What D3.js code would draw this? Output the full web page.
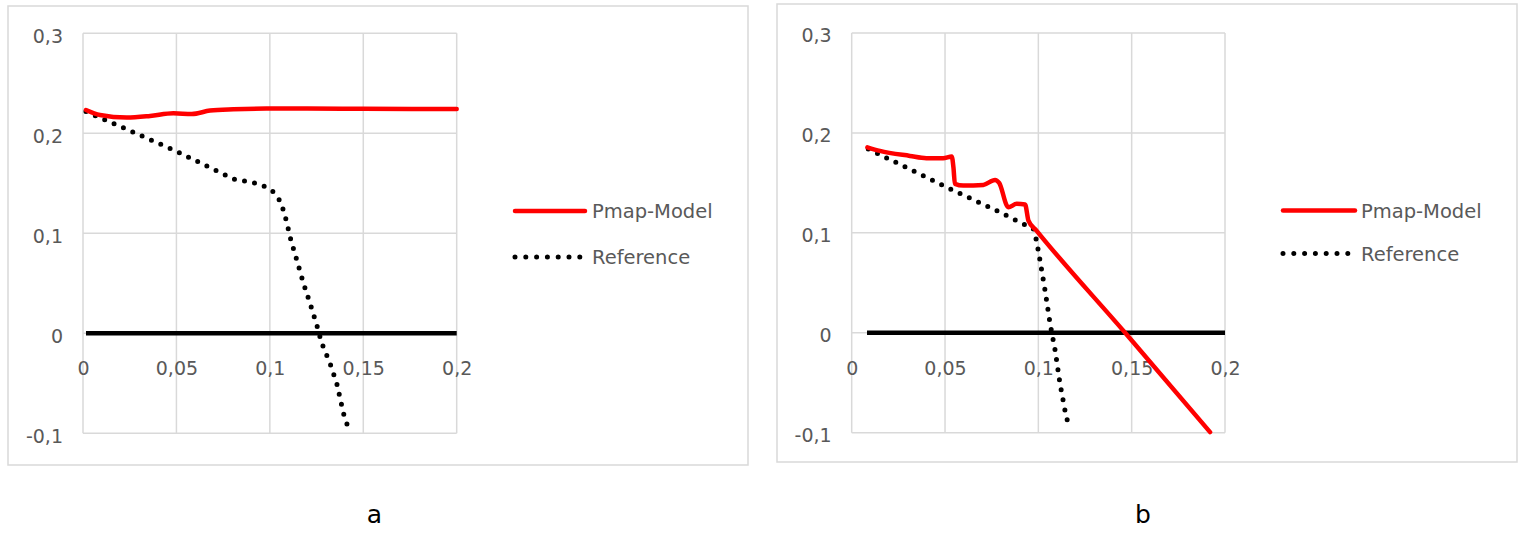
<!DOCTYPE html>
<html><head><meta charset="utf-8">
<script src="https://cdn.jsdelivr.net/npm/d3@7"></script>
<style>
html,body{margin:0;padding:0;background:#fff;}
svg{display:block;}
text{font-family:"DejaVu Sans",sans-serif;}
</style></head>
<body>
<svg id="chart" width="1521" height="534"></svg>
<script>
// ---- data ----
const xTickValues = [0, 0.05, 0.1, 0.15, 0.2];
const xTickLabels = ["0", "0,05", "0,1", "0,15", "0,2"];
const yTickValues = [-0.1, 0, 0.1, 0.2, 0.3];
const yTickLabels = ["-0,1", "0", "0,1", "0,2", "0,3"];
const seriesNames = ["Pmap-Model", "Reference"];
const panelLabels = ["a", "b"];

// Panel a
const aModelX = [0.0016, 0.0091, 0.0234, 0.0359, 0.0484, 0.0582, 0.068, 0.0805, 0.0982, 0.12, 0.15, 0.2];
const aModelY = [0.2233, 0.2183, 0.2157, 0.2173, 0.22, 0.2193, 0.2227, 0.224, 0.2247, 0.2247, 0.2245, 0.2243];
const aRefX = [0.0016, 0.0234, 0.0493, 0.0698, 0.0805, 0.0912, 0.097, 0.1016, 0.1051, 0.1072, 0.1087, 0.1113, 0.1144, 0.118, 0.1215, 0.1251, 0.1278, 0.1322, 0.1358, 0.1394, 0.1429];
const aRefY = [0.2217, 0.204, 0.1827, 0.164, 0.1543, 0.1507, 0.147, 0.1417, 0.1333, 0.1233, 0.1133, 0.093, 0.0733, 0.05, 0.03, 0.0083, -0.01, -0.03, -0.05, -0.08, -0.1];
const aZeroX = [0.0016, 0.2];
const aZeroY = [0, 0];

// Panel b
const bModelX = [0.0084, 0.0151, 0.0312, 0.04, 0.049, 0.0536, 0.0545, 0.0553, 0.0598, 0.0705, 0.0768, 0.079, 0.0839, 0.0884, 0.0929, 0.0947, 0.099, 0.1465, 0.192];
const bModelY = [0.1856, 0.182, 0.177, 0.1747, 0.1747, 0.1763, 0.1657, 0.149, 0.1473, 0.148, 0.153, 0.15, 0.1256, 0.129, 0.1283, 0.1123, 0.1023, 0.0, -0.0994];
const bRefX = [0.0089, 0.0509, 0.0768, 0.0973, 0.099, 0.1009, 0.1036, 0.1063, 0.109, 0.1116, 0.1145, 0.1166];
const bRefY = [0.184, 0.1456, 0.123, 0.104, 0.0923, 0.0723, 0.0423, 0.009, -0.0177, -0.051, -0.08, -0.096];
const bZeroX = [0.0082, 0.2];
const bZeroY = [0, 0];

// ---- layout ----
const panels = [
  {label: panelLabels[0], box: [8, 6, 748, 465], plot: [83, 456.7, 33.3, 433.3],
   model: [aModelX, aModelY], ref: [aRefX, aRefY], zero: [aZeroX, aZeroY],
   legendLine: [515, 585], legendText: 592, legendY: [211, 257], labelPos: [374.5, 516]},
  {label: panelLabels[1], box: [777, 4, 1517, 462], plot: [851.7, 1225, 33, 432.7],
   model: [bModelX, bModelY], ref: [bRefX, bRefY], zero: [bZeroX, bZeroY],
   legendLine: [1283, 1355], legendText: 1361, legendY: [210.5, 253.5], labelPos: [1143, 516]}
];

const svg = d3.select("#chart");
const gridColor = "#d9d9d9";
const textColor = "#595959";
const red = "#ff0000";
const FONT = "'DejaVu Sans', sans-serif";

panels.forEach(p => {
  const g = svg.append("g");
  g.append("rect")
    .attr("x", p.box[0]).attr("y", p.box[1])
    .attr("width", p.box[2] - p.box[0]).attr("height", p.box[3] - p.box[1])
    .attr("fill", "#fff").attr("stroke", gridColor).attr("stroke-width", 1.5);

  const x = d3.scaleLinear().domain([0, 0.2]).range([p.plot[0], p.plot[1]]);
  const y = d3.scaleLinear().domain([-0.1, 0.3]).range([p.plot[3], p.plot[2]]);

  // gridlines
  g.append("g").selectAll("line").data(yTickValues).join("line")
    .attr("x1", p.plot[0]).attr("x2", p.plot[1])
    .attr("y1", d => y(d)).attr("y2", d => y(d))
    .attr("stroke", gridColor).attr("stroke-width", 1.5);
  g.append("g").selectAll("line").data(xTickValues).join("line")
    .attr("x1", d => x(d)).attr("x2", d => x(d))
    .attr("y1", p.plot[2]).attr("y2", p.plot[3])
    .attr("stroke", gridColor).attr("stroke-width", 1.5);

  // y axis labels
  const yAxis = d3.axisLeft(y).tickValues(yTickValues)
    .tickFormat((d, i) => yTickLabels[i]).tickSize(0).tickPadding(20);
  const ya = g.append("g").attr("transform", `translate(${p.plot[0]},0)`).call(yAxis);
  ya.select(".domain").remove();
  ya.selectAll("text").attr("fill", textColor).style("font-size", "19px")
    .style("font-family", FONT).attr("dy", "0.38em").attr("y", 1.5);

  // x axis labels placed below the zero line
  const xAxis = d3.axisBottom(x).tickValues(xTickValues)
    .tickFormat((d, i) => xTickLabels[i]).tickSize(0).tickPadding(35);
  const xa = g.append("g").attr("transform", `translate(0,${y(0)})`).call(xAxis);
  xa.select(".domain").remove();
  xa.selectAll("text").attr("fill", textColor).style("font-size", "19px")
    .style("font-family", FONT).attr("dy", "0.36em");

  const line = d3.line().x(d => x(d[0])).y(d => y(d[1]));
  const zip = (xs, ys) => xs.map((v, i) => [v, ys[i]]);

  // zero line
  g.append("path").datum(zip(p.zero[0], p.zero[1]))
    .attr("d", line).attr("fill", "none").attr("stroke", "#000").attr("stroke-width", 4.5);

  // reference (dotted)
  g.append("path").datum(zip(p.ref[0], p.ref[1]))
    .attr("d", line).attr("fill", "none").attr("stroke", "#000")
    .attr("stroke-width", 5).attr("stroke-linecap", "round")
    .attr("stroke-dasharray", "0 10.2");

  // model (red)
  g.append("path").datum(zip(p.model[0], p.model[1]))
    .attr("d", line.curve(d3.curveMonotoneX)).attr("fill", "none").attr("stroke", red)
    .attr("stroke-width", 4.5).attr("stroke-linejoin", "round").attr("stroke-linecap", "round");
  line.curve(d3.curveLinear);

  // legend
  g.append("line").attr("x1", p.legendLine[0]).attr("x2", p.legendLine[1])
    .attr("y1", p.legendY[0]).attr("y2", p.legendY[0])
    .attr("stroke", red).attr("stroke-width", 4.5).attr("stroke-linecap", "round");
  g.append("line").attr("x1", p.legendLine[0]).attr("x2", p.legendLine[1] - 4)
    .attr("y1", p.legendY[1]).attr("y2", p.legendY[1])
    .attr("stroke", "#000").attr("stroke-width", 5).attr("stroke-linecap", "round")
    .attr("stroke-dasharray", "0 10.8");
  seriesNames.forEach((name, i) => {
    g.append("text").attr("x", p.legendText).attr("y", p.legendY[i])
      .attr("dy", "0.36em").attr("fill", textColor).style("font-size", "19.5px").text(name);
  });

  // panel label
  g.append("text").attr("x", p.labelPos[0]).attr("y", p.labelPos[1])
    .attr("dy", "0.28em").attr("text-anchor", "middle").attr("fill", "#000")
    .style("font-size", "25px").text(p.label);
});
</script>
</body></html>
